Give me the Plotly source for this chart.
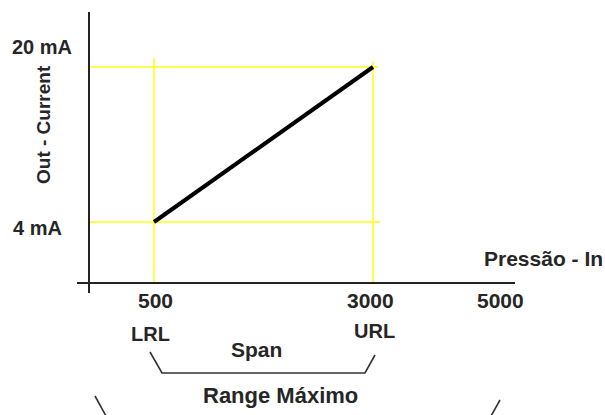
import plotly.graph_objects as go

# ---- data ----
pressure = [500, 3000]          # LRL, URL (in)
current = [4, 20]               # output current (mA)
current_labels = ["20 mA", "4 mA"]
current_label_vals = [20, 4]
x_tick_vals = [500, 3000]
x_tick_text = ["500", "3000"]
max_tick_text = "5000"
range_labels = ["LRL", "URL"]

W, H = 605, 415
# pixel anchors of the schematic (500 -> 154px, 3000 -> 373px; 4mA -> 222px, 20mA -> 67px)
kx = (373 - 154) / (pressure[1] - pressure[0])
ky = (222 - 67) / (current[1] - current[0])
x_range = [pressure[0] - 154 / kx, pressure[0] + (W - 154) / kx]
y_range = [current[0] - (H - 222) / ky, current[1] + 67 / ky]

def px(x):
    return x / W

def py(y):
    return 1 - y / H

FONT = "Arial, Liberation Sans, sans-serif"
TXT = "#262626"
YEL = "#ffff1a"

fig = go.Figure()

fig.add_trace(go.Scatter(x=pressure, y=current, mode="lines",
                         line=dict(color="black", width=4), hoverinfo="skip",
                         showlegend=False))

shapes = []
# yellow guide lines
for v, top in zip(pressure, [58, 62]):
    shapes.append(dict(type="line", xref="x", yref="paper", x0=v, x1=v,
                       y0=py(283), y1=py(top), line=dict(color=YEL, width=1.6), layer="below"))
for v, right in zip(current, [380, 378]):
    shapes.append(dict(type="line", xref="paper", yref="y", x0=px(89), x1=px(right),
                       y0=v, y1=v, line=dict(color=YEL, width=1.6), layer="below"))
# axes
shapes.append(dict(type="line", xref="paper", yref="paper", x0=px(89), x1=px(89),
                   y0=py(12), y1=py(293), line=dict(color="#222222", width=2)))
shapes.append(dict(type="line", xref="paper", yref="paper", x0=px(77), x1=px(515),
                   y0=py(283), y1=py(283), line=dict(color="#222222", width=2)))
# span bracket
shapes.append(dict(type="path", xref="paper", yref="paper",
                   path=f"M {px(150)},{py(352)} L {px(162)},{py(373)} L {px(365)},{py(373)} L {px(375)},{py(355)}",
                   line=dict(color="#333333", width=1.6)))
# range bracket (open ends)
shapes.append(dict(type="line", xref="paper", yref="paper", x0=px(95), x1=px(106),
                   y0=py(396), y1=py(416), line=dict(color="#333333", width=1.6)))
shapes.append(dict(type="line", xref="paper", yref="paper", x0=px(500), x1=px(491),
                   y0=py(400), y1=py(416), line=dict(color="#333333", width=1.6)))

ann = []
def text(t, x, y, xref="paper", yref="paper", size=20, angle=0, xshift=0):
    ann.append(dict(text=f"<b>{t}</b>", x=x, y=y, xref=xref, yref=yref,
                    showarrow=False, xanchor="center", yanchor="middle", xshift=xshift,
                    textangle=angle, font=dict(family=FONT, size=size, color=TXT)))

text(current_labels[0], px(42), py(47))
text(current_labels[1], px(37), py(228))
text("Out - Current", px(44), py(125), size=19, angle=-90)
text("Pressão - In", px(543), py(258), size=21)
for v, t, sh in zip(x_tick_vals, x_tick_text, [1, -3]):
    text(t, v, py(300), xref="x", size=21, xshift=sh)
text(max_tick_text, px(500), py(300), size=21)
text(range_labels[0], px(150), py(334))
text(range_labels[1], px(374), py(331))
text("Span", px(256), py(349), size=21)
text("Range Máximo", px(280), py(395), size=22)

fig.update_layout(
    width=W, height=H, margin=dict(l=0, r=0, t=0, b=0),
    paper_bgcolor="white", plot_bgcolor="white",
    xaxis=dict(range=x_range, visible=False, fixedrange=True),
    yaxis=dict(range=y_range, visible=False, fixedrange=True),
    shapes=shapes, annotations=ann, showlegend=False,
)

fig.write_html("out.html", config={"displayModeBar": False},
               post_script="document.body.style.margin='0';document.body.style.padding='0';document.body.style.overflow='hidden';")
